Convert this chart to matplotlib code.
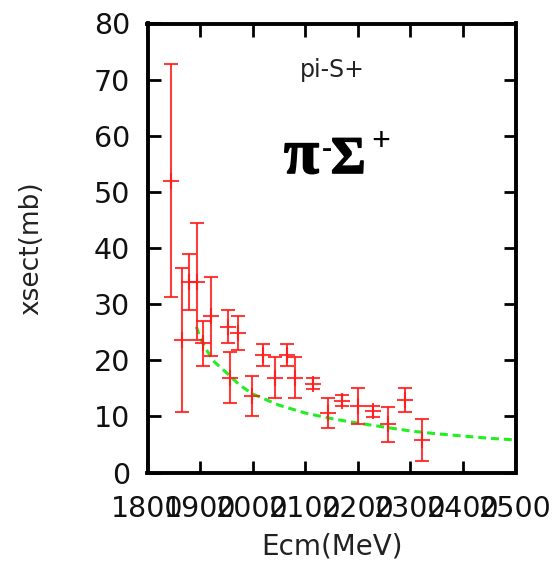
import matplotlib
matplotlib.use("Agg")
import matplotlib.pyplot as plt
import matplotlib.patheffects as pe

# ---- data ----
energy = [1844, 1866, 1878, 1894, 1905, 1921, 1953, 1956, 1973, 1998, 2020,
          2043, 2065, 2081, 2114, 2144, 2170, 2200, 2228, 2258, 2290, 2322]
xsect = [52.0, 23.6, 34.0, 34.0, 23.0, 27.8, 26.0, 16.9, 24.9, 13.6, 20.9,
         16.9, 20.9, 16.9, 15.8, 10.6, 12.8, 11.8, 10.9, 8.6, 12.9, 5.8]
xerr_mb = [20.8, 12.9, 5.0, 10.4, 4.0, 7.1, 3.0, 4.5, 3.0, 3.6, 2.0,
           3.6, 2.0, 3.6, 1.0, 2.7, 1.0, 3.2, 1.0, 3.1, 2.1, 3.7]

fit_energy = [1893, 1900, 1910, 1925, 1950, 1975, 2000, 2050, 2100, 2150,
              2200, 2250, 2300, 2350, 2400, 2450, 2500]
fit_xsect = [26.0, 24.0, 22.2, 19.9, 17.8, 15.6, 14.0, 12.0, 10.6, 9.6,
             8.8, 8.1, 7.4, 6.9, 6.5, 6.1, 5.8]

xticks = [1800, 1900, 2000, 2100, 2200, 2300, 2400, 2500]
yticks = [0, 10, 20, 30, 40, 50, 60, 70, 80]

W, H = 552, 573
fig = plt.figure(figsize=(W / 100, H / 100), dpi=100)
L, R, T, B = 147.5, 515.5, 23.5, 472.5
ax = fig.add_axes([L / W, 1 - B / H, (R - L) / W, (B - T) / H])

ax.errorbar(energy, xsect, yerr=xerr_mb, fmt='+', color='#ff1a1a', alpha=0.85,
            ecolor='#ff1a1a', elinewidth=1.5, capsize=5, capthick=1.5,
            markersize=11, markeredgewidth=1.5, zorder=3)
ax.plot(fit_energy, fit_xsect, color='#22ee22', linewidth=2.2,
        linestyle=(0, (2.6, 1.6)), zorder=2)

ax.set_xlim(1800, 2500)
ax.set_ylim(0, 80)
ax.set_xticks(xticks)
ax.set_yticks(yticks)
ax.set_xticklabels([str(v) for v in xticks])
ax.set_yticklabels([str(v) for v in yticks])

for s in ax.spines.values():
    s.set_linewidth(2.8)
ax.tick_params(direction='in', length=9, width=2.0, top=True, right=True,
               labelsize=20.5, colors='black', labelcolor='#111111')
ax.tick_params(axis='y', pad=12.5)
ax.tick_params(axis='x', pad=16)

ax.set_xlabel('Ecm(MeV)', fontsize=20, color='#222222')
ax.set_ylabel('xsect(mb)', fontsize=19, color='#222222')
ax.xaxis.set_label_coords(0.5, (B - 533) / (B - T))
ax.yaxis.set_label_coords((44 - L) / (R - L), 0.5)


def fx(x, y):
    return x / W, 1 - y / H


fig.text(*fx(332, 77), 'pi-S+', fontsize=17, color='#222222',
         ha='center', va='baseline')

serif = ['Liberation Serif', 'DejaVu Serif']
bold = [pe.withStroke(linewidth=1.2, foreground='black')]
fig.text(*fx(284, 173), 'π', fontsize=46, fontweight='bold', family=serif,
         ha='left', va='baseline', path_effects=bold)
fig.text(*fx(327, 150), '-', fontsize=22, fontweight='bold', family=serif,
         ha='center', va='center')
fig.text(*fx(331, 173), 'Σ', fontsize=38, fontweight='bold', family=serif,
         ha='left', va='baseline', path_effects=bold)
fig.text(*fx(381, 141.5), '+', fontsize=24, fontweight='bold', family=serif,
         ha='center', va='center')

fig.savefig('out.png', dpi=100)
